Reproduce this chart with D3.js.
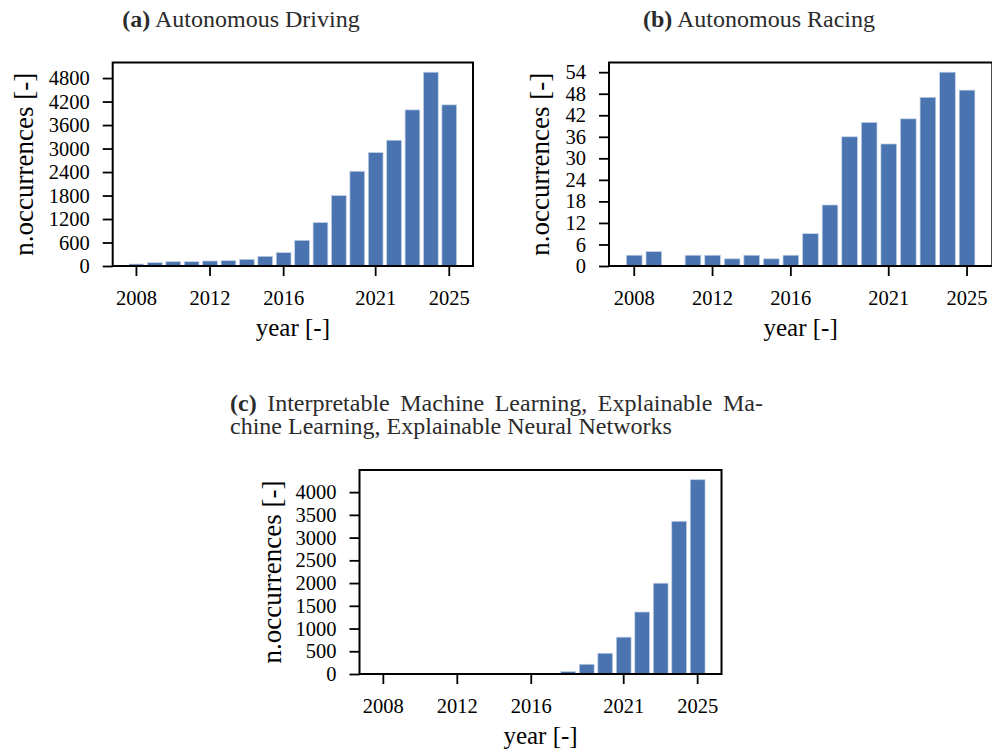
<!DOCTYPE html>
<html>
<head>
<meta charset="utf-8">
<script src="https://cdn.jsdelivr.net/npm/d3@7"></script>
<style>
  body { margin: 0; background: #fff; }
  svg { display: block; }
  text { font-family: "Liberation Serif", "Times New Roman", serif; }
</style>
</head>
<body>
<svg id="fig" width="992" height="753"></svg>
<script>
// Publication counts per year, 2008-2025
const years = [2008, 2009, 2010, 2011, 2012, 2013, 2014, 2015, 2016,
               2017, 2018, 2019, 2020, 2021, 2022, 2023, 2024, 2025];
const yearTicks = [2008, 2012, 2016, 2021, 2025];

const drivingCounts = [50, 85, 110, 110, 128, 136, 170, 247, 341,
                       656, 1108, 1798, 2420, 2897, 3212, 3987, 4950, 4115];
const drivingTicks = [0, 600, 1200, 1800, 2400, 3000, 3600, 4200, 4800];

const racingCounts = [3, 4, 0, 3, 3, 2, 3, 2, 3,
                      9, 17, 36, 40, 34, 41, 47, 54, 49];
const racingTicks = [0, 6, 12, 18, 24, 30, 36, 42, 48, 54];

const xaiCounts = [0, 0, 0, 0, 0, 0, 0, 0, 0,
                   0, 52, 214, 457, 810, 1363, 1997, 3359, 4273];
const xaiTicks = [0, 500, 1000, 1500, 2000, 2500, 3000, 3500, 4000];

const xLabel = "year [-]";
const yLabel = "n.occurrences [-]";

const BAR = "#4a74b0";
const TICK_FONT = 20.5;
const X_LABEL_FONT = 25;
const Y_LABEL_FONT = 27;
const TITLE_FONT = 24;

const svg = d3.select("#fig");

const panels = [
  { tag: "(a)", title: ["Autonomous Driving"], values: drivingCounts, ticks: drivingTicks,
    box: { left: 112.7, right: 473, top: 62.5, bottom: 266 },
    title_at: { x: 241, y: 27, anchor: "middle" }, yLabelX: 24 },
  { tag: "(b)", title: ["Autonomous Racing"], values: racingCounts, ticks: racingTicks,
    box: { left: 609, right: 992.3, top: 62.5, bottom: 266 },
    title_at: { x: 759, y: 27, anchor: "middle" }, yLabelX: 540 },
  { tag: "(c)", title: ["Interpretable Machine Learning, Explainable Ma-",
                        "chine Learning, Explainable Neural Networks"],
    values: xaiCounts, ticks: xaiTicks,
    box: { left: 359.5, right: 721.5, top: 470, bottom: 674 },
    title_at: { x: 230, y: 411, anchor: "start", lineGap: 23, firstLineWordSpacing: 4.5 },
    yLabelX: 272 }
];

panels.forEach(p => {
  const b = p.box;
  const x = d3.scaleBand()
    .domain(years)
    .range([b.left, b.right])
    .paddingInner(0.2)
    .paddingOuter(0.89);
  const y = d3.scaleLinear()
    .domain([0, d3.max(p.values) * 1.05])
    .range([b.bottom, b.top]);

  const g = svg.append("g");

  // bars
  g.append("g").selectAll("rect")
    .data(years.map((yr, i) => ({ yr, v: p.values[i] })).filter(d => d.v > 0))
    .join("rect")
    .attr("x", d => x(d.yr))
    .attr("width", x.bandwidth())
    .attr("y", d => y(d.v))
    .attr("height", d => y(0) - y(d.v))
    .attr("fill", BAR)
    .attr("stroke", "#c3d1e6")
    .attr("stroke-width", 0.7);

  // frame
  g.append("rect")
    .attr("x", b.left).attr("y", b.top)
    .attr("width", b.right - b.left).attr("height", b.bottom - b.top)
    .attr("fill", "none").attr("stroke", "#000").attr("stroke-width", 2);

  // x axis
  const xa = g.append("g")
    .attr("transform", `translate(0,${b.bottom})`)
    .call(d3.axisBottom(x).tickValues(yearTicks).tickSize(10).tickPadding(14));
  // y axis
  const ya = g.append("g")
    .attr("transform", `translate(${b.left},0)`)
    .call(d3.axisLeft(y).tickValues(p.ticks).tickFormat(d3.format("d"))
      .tickSize(10).tickPadding(13));

  [xa, ya].forEach(ax => {
    ax.select(".domain").remove();
    ax.selectAll(".tick line").attr("stroke", "#000").attr("stroke-width", 1.8);
    ax.selectAll(".tick text")
      .attr("fill", "#000")
      .style("font-family", '"Liberation Serif", serif')
      .style("font-size", TICK_FONT + "px");
  });

  // axis labels
  g.append("text")
    .attr("x", (b.left + b.right) / 2)
    .attr("y", b.bottom + 70)
    .attr("text-anchor", "middle")
    .style("font-size", X_LABEL_FONT + "px")
    .text(xLabel);

  g.append("text")
    .attr("transform", `translate(${p.yLabelX},${(b.top + b.bottom) / 2}) rotate(-90)`)
    .attr("text-anchor", "middle")
    .attr("dy", "0.35em")
    .style("font-size", Y_LABEL_FONT + "px")
    .text(yLabel);

  // subfigure caption
  const t = p.title_at;
  p.title.forEach((line, i) => {
    const txt = g.append("text")
      .attr("x", t.x)
      .attr("y", t.y + i * (t.lineGap || 0))
      .attr("text-anchor", t.anchor)
      .attr("fill", "#2b2b2b")
      .style("font-size", TITLE_FONT + "px");
    if (i === 0) {
      // first line of a wrapped caption is set justified, so its spaces are wider
      if (t.firstLineWordSpacing) txt.style("word-spacing", t.firstLineWordSpacing + "px");
      txt.append("tspan").style("font-weight", "bold").text(p.tag);
      txt.append("tspan").text(" " + line);
    } else {
      txt.text(line);
    }
  });
});
</script>
</body>
</html>
